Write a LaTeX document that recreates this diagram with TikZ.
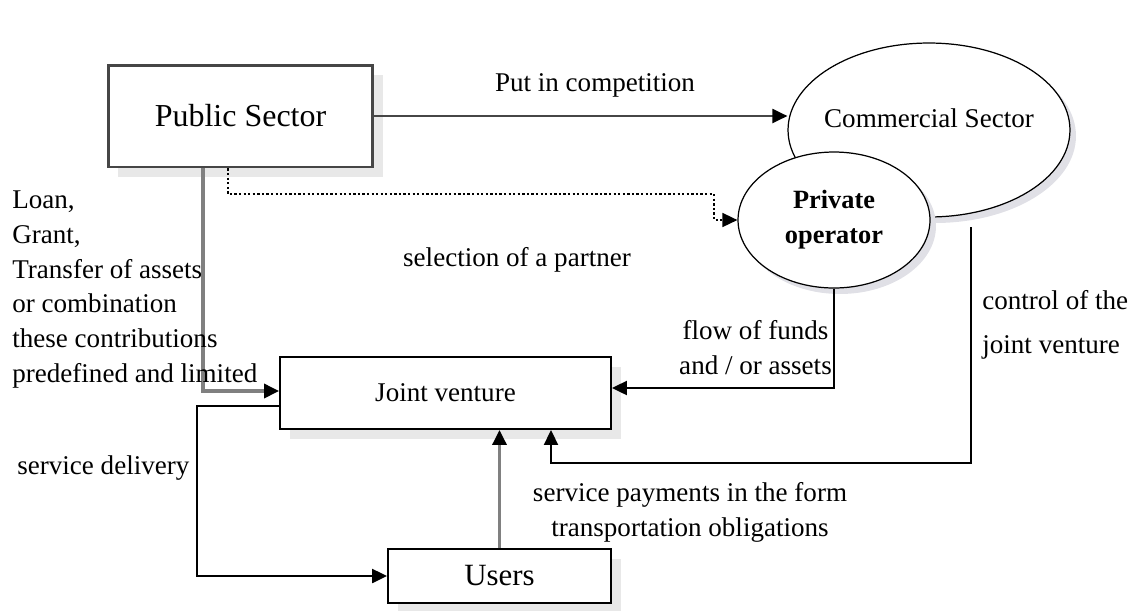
\documentclass[tikz,border=0pt]{standalone}
\usepackage{fontspec}
\setmainfont{Liberation Serif}
\usepackage{tikz}
\usetikzlibrary{shapes.geometric, arrows.meta, positioning, shadows}

\begin{document}
\begin{tikzpicture}[
    x=0.02cm, y=-0.02cm,
    every node/.style={font=\fontsize{15.4}{19.9}\selectfont},
    caja/.style={
        rectangle,
        draw=black,
        line width=1.1pt,
        fill=white,
        align=center,
        drop shadow={shadow xshift=0.2cm, shadow yshift=-0.2cm, fill=gray!18, opacity=1}
    },
    ovalo/.style={
        ellipse,
        draw=black,
        line width=0.7pt,
        fill=white,
        inner sep=0pt,
        align=center,
        drop shadow={shadow xshift=0.12cm, shadow yshift=-0.12cm, fill=blue!10!gray!22, opacity=1}
    },
    texto/.style={inner sep=0pt, align=left},
    flecha/.style={
        -{Triangle[length=0.3cm, width=0.28cm, color=black]},
        line width=1pt
    },
    gris/.style={draw=gray, line width=1.9pt}
]
\useasboundingbox (0,0) rectangle (1129,610);

\node[caja, draw=gray!55!black, line width=1.7pt, minimum width=5.3cm, minimum height=2.04cm,
      font=\fontsize{18.2}{22}\selectfont] (publico) at (240.5,116) {Public Sector};
\node[ovalo, minimum width=5.64cm, minimum height=3.48cm] (comercial) at (929,130) {};
\node[texto] (comercialtxt) at (929,118) {Commercial Sector};
\node[ovalo, minimum width=3.84cm, minimum height=2.72cm,
      font=\bfseries\fontsize{15}{19.9}\selectfont] (privado) at (834,220) {Private\\operator};
\node[caja, minimum width=6.62cm, minimum height=1.44cm] (empresa) at (445.5,393) {Joint venture};
\node[caja, minimum width=4.46cm, minimum height=1.08cm,
      font=\fontsize{17.6}{21}\selectfont] (usuarios) at (499.5,576) {Users};

% competencia
\draw[flecha, draw=gray!55!black, line width=1.2pt] (publico.east) -- (publico.east -| comercial.west);
\node[texto] (competencia) at (595,85) {Put in competition};

% seleccion del socio
\coordinate (sel1) at (228,194);
\coordinate (sel2) at (714,194);
\draw[flecha, dash pattern=on 1.3pt off 1.3pt, line width=0.9pt]
    (sel1 |- publico.south) -- (sel1) -- (sel2) |- (privado.west);
\node[texto] (seleccion) at (517,260) {selection of a partner};

% aportes publicos
\coordinate (aporte) at (203,391);
\draw[flecha, gris] (aporte |- publico.south) -- (aporte) -- (aporte -| empresa.west);
\node[texto, anchor=west] (aportes) at (12,289.5)
    {Loan,\\Grant,\\Transfer of assets\\or combination\\these contributions\\predefined and limited};

% fondos
\coordinate (fondos) at (834,388);
\draw[flecha, line width=1.2pt] (privado.south) -- (fondos) -- (fondos -| empresa.east);
\node[texto, align=center] (flujo) at (755.5,347.5) {flow of funds\\and / or assets};

% control
\coordinate (control1) at (971,227);
\coordinate (control2) at (971,463);
\coordinate (control3) at (551,463);
\draw[flecha, line width=1.2pt] (control1) -- (control2) -- (control3) -- (control3 |- empresa.south);
\node[texto, anchor=west] (controltxt) at (982,325) {control of the\\[5pt]joint venture};

% pagos
\draw[flecha, gris] (usuarios.north) -- (usuarios.north |- empresa.south);
\node[texto, align=center] (pagos) at (690,512) {service payments in the form\\transportation obligations};

% entrega
\coordinate (entrega) at (197,406);
\draw[flecha, line width=1.3pt] (entrega -| empresa.west) -- (entrega) |- (usuarios.west);
\node[texto, anchor=west] (entregatxt) at (17,468) {service delivery};

\end{tikzpicture}
\end{document}
